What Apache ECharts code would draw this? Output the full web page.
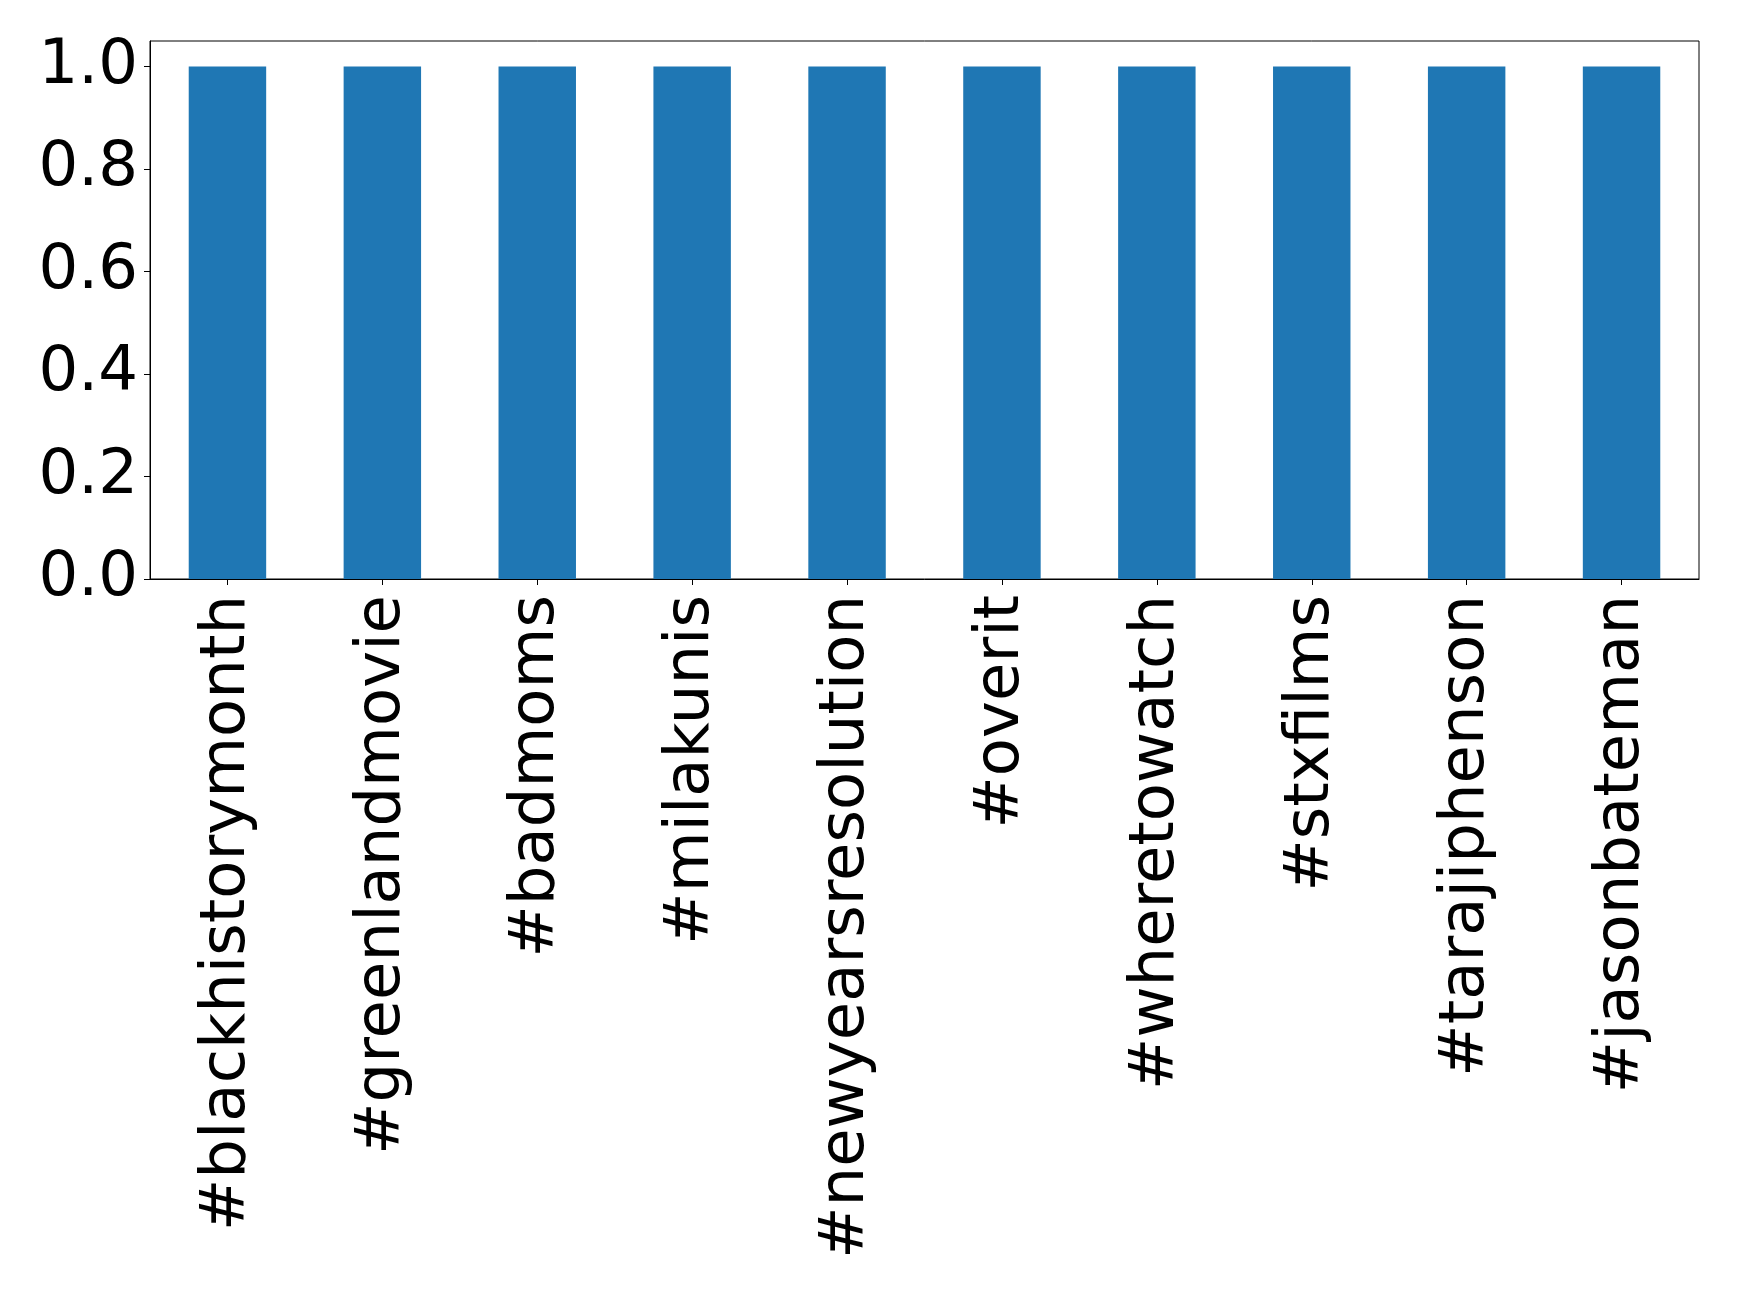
<!DOCTYPE html>
<html>
<head>
<meta charset="utf-8">
<script src="https://cdn.jsdelivr.net/npm/echarts@6/dist/echarts.min.js"></script>
<style>
html,body{margin:0;padding:0;background:#fff;}
#chart{width:1739px;height:1292px;}
</style>
</head>
<body>
<div id="chart"></div>
<script>
const categories = ['#blackhistorymonth','#greenlandmovie','#badmoms','#milakunis','#newyearsresolution','#overit','#wheretowatch','#stxfilms','#tarajiphenson','#jasonbateman'];
const values = [1, 1, 1, 1, 1, 1, 1, 1, 1, 1];
const yTicks = ['0.0','0.2','0.4','0.6','0.8','1.0'];

const chart = echarts.init(document.getElementById('chart'), null, {renderer:'canvas'});
const font = 'DejaVu Sans';
chart.setOption({
  animation: false,
  backgroundColor: '#fff',
  grid: {
    left: 150, right: 40, top: 41, bottom: 713,
    show: true, borderColor: '#000', borderWidth: 1, backgroundColor: 'transparent'
  },
  xAxis: {
    type: 'category',
    data: categories,
    boundaryGap: true,
    axisLine: {show: true, lineStyle: {color: '#000', width: 1}},
    axisTick: {show: true, alignWithLabel: true, length: 6, lineStyle: {color: '#000', width: 1}},
    axisLabel: {rotate: 90, margin: 16, fontSize: 62.5, fontFamily: font, color: '#000', interval: 0, padding: [8, 0, 0, 0]}
  },
  yAxis: {
    type: 'value',
    min: 0, max: 1.05, interval: 0.2,
    splitLine: {show: false},
    axisLine: {show: true, lineStyle: {color: '#000', width: 1}},
    axisTick: {show: true, length: 6, lineStyle: {color: '#000', width: 1}},
    axisLabel: {
      margin: 12, fontSize: 62.5, fontFamily: font, color: '#000',
      formatter: function (v) {
        const i = Math.round(v / 0.2);
        if (Math.abs(v - i * 0.2) > 1e-6) return '';
        return yTicks[i] !== undefined ? yTicks[i] : '';
      },
      showMaxLabel: false
    }
  },
  series: [{
    type: 'bar',
    data: values,
    barWidth: '50%',
    itemStyle: {color: '#1f77b4'}
  }]
});
</script>
</body>
</html>
